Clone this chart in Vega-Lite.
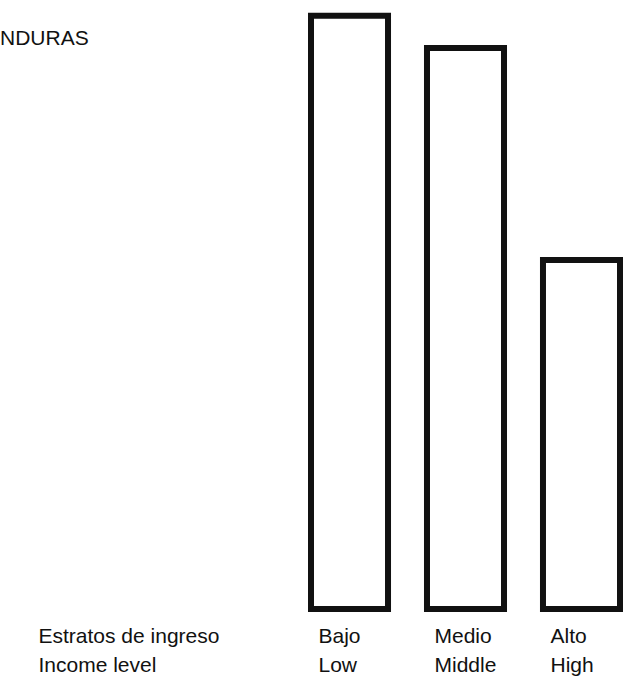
{
  "$schema": "https://vega.github.io/schema/vega-lite/v6.json",
  "width": 630,
  "height": 609,
  "padding": {"top": 0, "left": 0, "right": 0, "bottom": 72},
  "autosize": {"type": "none"},
  "background": "white",
  "title": {
    "text": "NDURAS",
    "anchor": "start",
    "frame": "group",
    "orient": "top",
    "offset": 0,
    "dx": 0,
    "dy": 66,
    "baseline": "alphabetic",
    "font": "Liberation Sans",
    "fontSize": 21,
    "fontWeight": "normal",
    "color": "#111111"
  },
  "data": {
    "values": [
      {"label": "Bajo Low", "value": 97.4},
      {"label": "Medio Middle", "value": 92.1},
      {"label": "Alto High", "value": 57.3}
    ]
  },
  "mark": {"type": "bar", "fill": "white", "stroke": "#111111", "strokeWidth": 6, "strokeJoin": "miter"},
  "encoding": {
    "x": {
      "field": "label",
      "type": "nominal",
      "sort": null,
      "scale": {"range": [311, 620], "paddingInner": 0.336, "paddingOuter": 0},
      "axis": {
        "title": ["Estratos de ingreso", "Income level"],
        "titleX": 38,
        "titleY": 16,
        "titleAlign": "left",
        "titleBaseline": "top",
        "titleAnchor": "start",
        "titleFont": "Liberation Sans",
        "titleFontSize": 21,
        "titleFontWeight": "normal",
        "titleColor": "#111111",
        "titleLineHeight": 29,
        "labelExpr": "[replace(datum.value, / .*$/, ''), replace(datum.value, /^[^ ]* /, '')]",
        "labelAngle": 0,
        "labelAlign": "left",
        "labelBaseline": "top",
        "labelOffset": -31,
        "labelPadding": 16,
        "labelFont": "Liberation Sans",
        "labelFontSize": 21,
        "labelColor": "#111111",
        "labelLineHeight": 29,
        "domain": false,
        "ticks": false,
        "grid": false
      }
    },
    "y": {
      "field": "value",
      "type": "quantitative",
      "scale": {"domain": [0, 100]},
      "axis": null
    }
  },
  "config": {"view": {"stroke": null}}
}
